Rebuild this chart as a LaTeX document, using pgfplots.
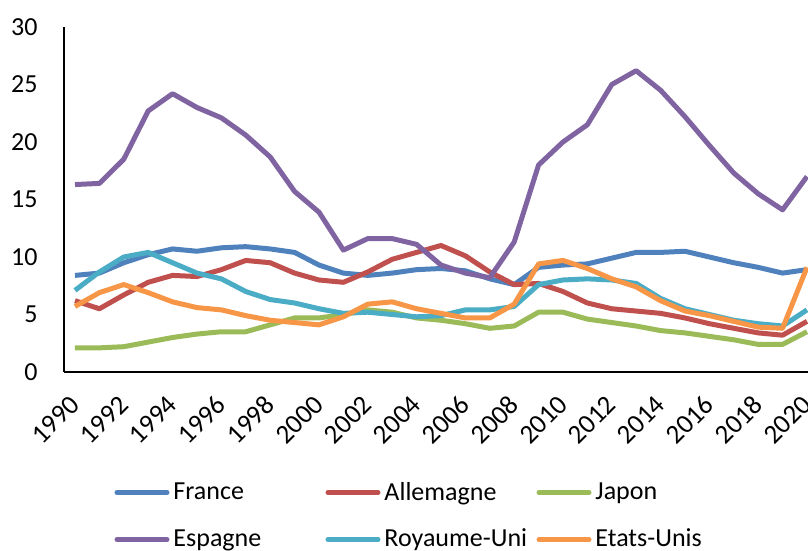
\documentclass[border=0pt]{standalone}
\usepackage{pgfplots}
\pgfplotsset{compat=1.18}
\usepackage{pgfplotstable}
\usepackage{fontspec}
\setmainfont{Carlito}
\definecolor{cFR}{HTML}{4F81BD}
\definecolor{cDE}{HTML}{C0504D}
\definecolor{cJP}{HTML}{9BBB59}
\definecolor{cES}{HTML}{8064A2}
\definecolor{cUK}{HTML}{4BACC6}
\definecolor{cUS}{HTML}{F79646}
\pgfplotstableread{
year FR DE JP ES UK US
1990 8.4 6.2 2.1 16.3 7.1 5.7
1991 8.6 5.5 2.1 16.4 8.7 6.9
1992 9.5 6.7 2.2 18.5 10.0 7.6
1993 10.2 7.8 2.6 22.7 10.4 6.9
1994 10.7 8.4 3.0 24.2 9.5 6.1
1995 10.5 8.3 3.3 23.0 8.6 5.6
1996 10.8 8.9 3.5 22.1 8.1 5.4
1997 10.9 9.7 3.5 20.6 7.0 4.9
1998 10.7 9.5 4.1 18.7 6.3 4.5
1999 10.4 8.6 4.7 15.7 6.0 4.3
2000 9.3 8.0 4.7 13.9 5.5 4.1
2001 8.6 7.8 5.0 10.6 5.1 4.8
2002 8.4 8.7 5.4 11.6 5.2 5.9
2003 8.6 9.8 5.2 11.6 5.0 6.1
2004 8.9 10.4 4.7 11.1 4.8 5.5
2005 9.0 11.0 4.5 9.3 4.9 5.1
2006 8.8 10.1 4.2 8.6 5.4 4.7
2007 8.1 8.7 3.8 8.2 5.4 4.7
2008 7.6 7.6 4.0 11.3 5.7 5.9
2009 9.1 7.7 5.2 18.0 7.6 9.4
2010 9.3 7.0 5.2 20.0 8.0 9.7
2011 9.4 6.0 4.6 21.5 8.1 9.0
2012 9.9 5.5 4.3 25.0 8.0 8.1
2013 10.4 5.3 4.0 26.2 7.7 7.4
2014 10.4 5.1 3.6 24.5 6.4 6.2
2015 10.5 4.7 3.4 22.2 5.5 5.3
2016 10.0 4.2 3.1 19.7 5.0 4.9
2017 9.5 3.8 2.8 17.3 4.5 4.4
2018 9.1 3.4 2.4 15.5 4.2 3.9
2019 8.6 3.2 2.4 14.1 4.0 3.8
2020 8.9 4.4 3.5 17.0 5.4 9.1
}\datatable
\begin{document}
\begin{tikzpicture}
\useasboundingbox (-32pt,-89.5pt) rectangle (372pt,186pt);
\begin{axis}[
  at={(0,0)}, anchor=south west,
  scale only axis,
  width=375.15pt, height=172.5pt,
  xmin=1989.55, xmax=2020.3,
  ymin=0, ymax=30,
  axis x line*=bottom, axis y line*=left,
  axis line style={black, line width=0.9pt, -},
  xtick={1990,1992,...,2020},
  ytick={0,5,...,30},
  major tick length=0pt,
  /pgf/number format/assume math mode=true,
  xticklabel shift=14pt,
  xticklabel style={/pgf/number format/1000 sep={}, font=\fontsize{13.5}{15}\selectfont, rotate=45, anchor=east, inner sep=0pt},
  yticklabel style={font=\fontsize{13}{15}\selectfont, anchor=east, inner sep=0pt, xshift=-13pt},
  legend columns=3,
  legend style={draw=none, fill=none, inner sep=0pt, outer sep=0pt,
    at={(0,0)}, anchor=north west, xshift=25.25pt, yshift=-55pt,
    font=\fontsize{13}{15}\selectfont,
    nodes={inner sep=0pt},
    column sep=2pt, row sep=13pt,
    /tikz/every even column/.append style={column sep=6pt}},
  legend image code/.code={\draw[#1, line width=2.5pt, line cap=round] (0pt,0pt) -- (25pt,0pt);},
  every axis plot/.append style={line width=2.5pt, line join=round, no marks},
]
\addplot[cFR] table[x=year, y=FR] {\datatable};
\addlegendentry{\makebox[70pt][l]{France}}
\addplot[cDE] table[x=year, y=DE] {\datatable};
\addlegendentry{\makebox[70pt][l]{Allemagne}}
\addplot[cJP] table[x=year, y=JP] {\datatable};
\addlegendentry{\makebox[70pt][l]{Japon}}
\addplot[cES] table[x=year, y=ES] {\datatable};
\addlegendentry{\makebox[70pt][l]{Espagne}}
\addplot[cUK] table[x=year, y=UK] {\datatable};
\addlegendentry{\makebox[70pt][l]{Royaume-Uni}}
\addplot[cUS] table[x=year, y=US] {\datatable};
\addlegendentry{\makebox[70pt][l]{Etats-Unis}}
\end{axis}
\end{tikzpicture}
\end{document}
